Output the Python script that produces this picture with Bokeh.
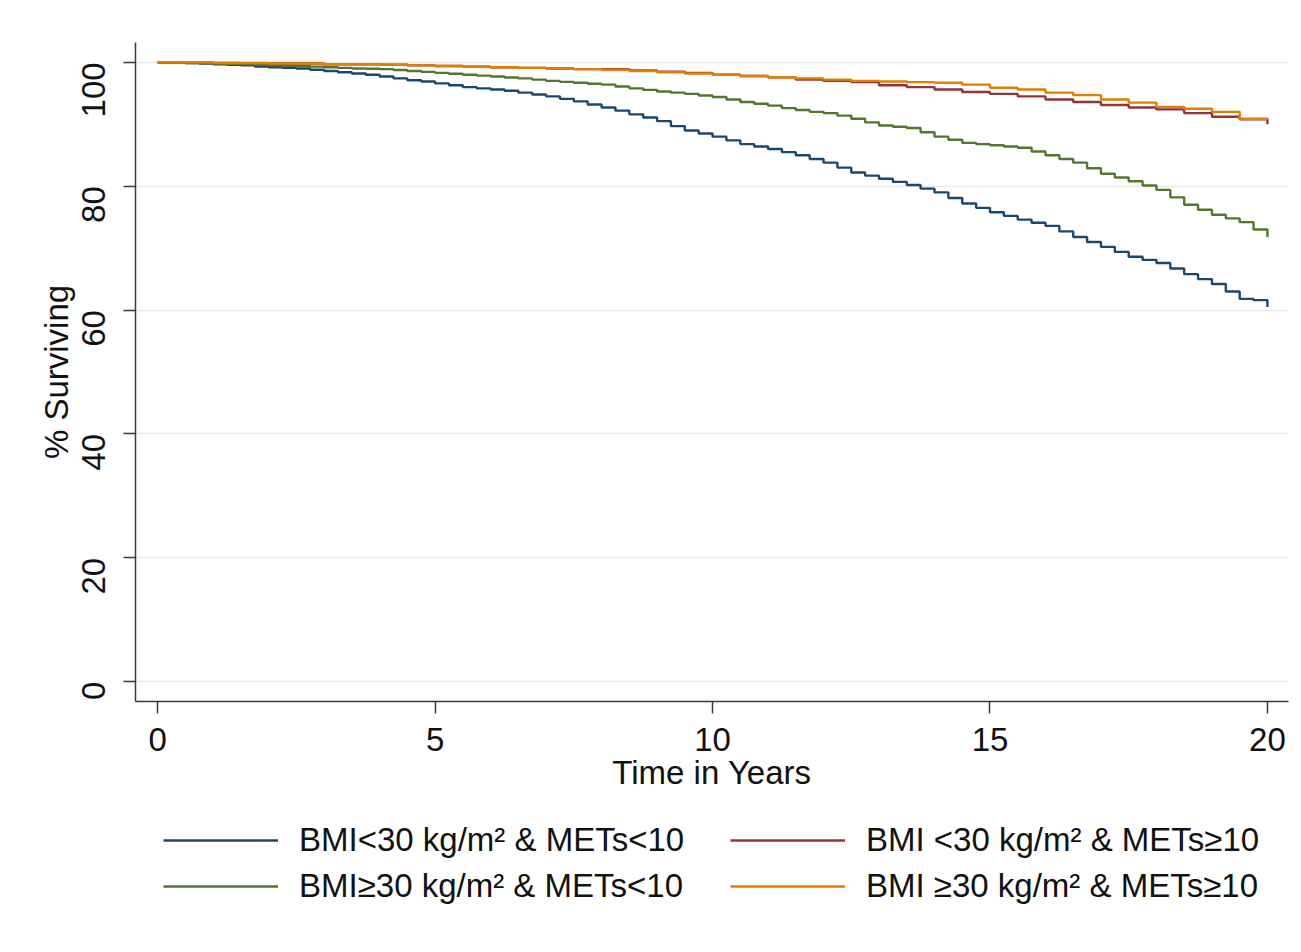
import math
from bokeh.plotting import figure
from bokeh.layouts import column
from bokeh.models import Legend, LegendItem, Range1d, FixedTicker
from bokeh.embed import file_html
from bokeh.resources import INLINE

# ---- data ----
years_q = [0, 0.25, 0.5, 0.75, 1, 1.25, 1.5, 1.75, 2, 2.25, 2.5, 2.75, 3, 3.25, 3.5, 3.75,
           4, 4.25, 4.5, 4.75, 5, 5.25, 5.5, 5.75, 6, 6.25, 6.5, 6.75, 7, 7.25, 7.5, 7.75,
           8, 8.25, 8.5, 8.75, 9, 9.25, 9.5, 9.75, 10, 10.25, 10.5, 10.75, 11, 11.25, 11.5,
           11.75, 12, 12.25, 12.5, 12.75, 13, 13.25, 13.5, 13.75, 14, 14.25, 14.5, 14.75,
           15, 15.25, 15.5, 15.75, 16, 16.25, 16.5, 16.75, 17, 17.25, 17.5, 17.75, 18,
           18.25, 18.5, 18.75, 19, 19.25, 19.5, 19.75, 20]

years_h = [0, 0.5, 1, 1.5, 2, 2.5, 3, 3.5, 4, 4.5, 5, 5.5, 6, 6.5, 7, 7.5, 8, 8.5, 9, 9.5,
           10, 10.5, 11, 11.5, 12, 12.5, 13, 13.5, 14, 14.5, 15, 15.5, 16, 16.5, 17, 17.5,
           18, 18.5, 19, 19.5, 20]

bmi_lt30_mets_lt10 = [100, 100, 99.9, 99.8, 99.7, 99.6, 99.5, 99.3, 99.2, 99.1, 99.0, 98.8,
                      98.6, 98.4, 98.2, 98.0, 97.7, 97.4, 97.1, 96.9, 96.6, 96.3, 96.0, 95.8,
                      95.6, 95.4, 95.1, 94.8, 94.5, 94.1, 93.7, 93.2, 92.7, 92.2, 91.6, 91.1,
                      90.5, 89.7, 89.0, 88.5, 88.0, 87.4, 86.8, 86.4, 86.0, 85.5, 85.0, 84.4,
                      83.8, 83.0, 82.2, 81.7, 81.2, 80.7, 80.2, 79.6, 79.0, 78.1, 77.2, 76.5,
                      75.8, 75.2, 74.6, 74.1, 73.6, 72.7, 71.8, 71.0, 70.2, 69.4, 68.6, 68.1,
                      67.6, 66.7, 65.8, 65.0, 64.2, 63.0, 61.8, 61.6, 60.5]

bmi_ge30_mets_lt10 = [100, 100, 99.9, 99.85, 99.8, 99.75, 99.7, 99.6, 99.5, 99.45, 99.4, 99.3,
                      99.2, 99.1, 99.0, 98.95, 98.9, 98.75, 98.6, 98.45, 98.3, 98.15, 98.0,
                      97.85, 97.7, 97.55, 97.4, 97.2, 97.0, 96.85, 96.7, 96.55, 96.4, 96.1,
                      95.8, 95.55, 95.3, 95.1, 94.9, 94.65, 94.4, 94.0, 93.6, 93.3, 93.0, 92.6,
                      92.3, 92.0, 91.8, 91.4, 90.9, 90.3, 89.8, 89.6, 89.4, 88.7, 88.0, 87.5,
                      87.0, 86.8, 86.6, 86.4, 86.2, 85.6, 85.0, 84.4, 83.8, 82.9, 82.0, 81.4,
                      80.8, 80.1, 79.4, 78.2, 77.0, 76.2, 75.4, 74.8, 74.2, 73.0, 71.8]

bmi_lt30_mets_ge10 = [100, 99.95, 99.9, 99.85, 99.8, 99.8, 99.7, 99.7, 99.6, 99.5, 99.4, 99.3,
                      99.2, 99.1, 99.0, 98.9, 98.9, 98.7, 98.5, 98.3, 98.0, 97.8, 97.6, 97.2,
                      97.0, 96.8, 96.3, 96.0, 95.6, 95.2, 94.9, 94.5, 94.0, 93.6, 93.1, 92.7,
                      92.4, 91.8, 91.2, 90.8, 90.0]

bmi_ge30_mets_ge10 = [100, 100, 99.9, 99.9, 99.8, 99.8, 99.7, 99.7, 99.6, 99.5, 99.4, 99.3,
                      99.2, 99.1, 99.0, 98.9, 98.8, 98.6, 98.4, 98.2, 98.0, 97.8, 97.6, 97.4,
                      97.2, 97.0, 96.9, 96.8, 96.7, 96.4, 95.9, 95.6, 95.1, 94.7, 94.0, 93.5,
                      92.8, 92.5, 92.0, 90.9, 90.8]

labels = ["BMI<30 kg/m\u00b2 & METs<10",
          "BMI <30 kg/m\u00b2 & METs\u226510",
          "BMI\u226530 kg/m\u00b2 & METs<10",
          "BMI \u226530 kg/m\u00b2 & METs\u226510"]
series_x = [years_q, years_h, years_q, years_h]
series_y = [bmi_lt30_mets_lt10, bmi_lt30_mets_ge10, bmi_ge30_mets_lt10, bmi_ge30_mets_ge10]
colors = ["#1a476f", "#90353b", "#55752f", "#e37e00"]

x_ticks = [0, 5, 10, 15, 20]
y_ticks = [0, 20, 40, 60, 80, 100]

FONT = "Liberation Sans"
FS = "33px"
LW = 2.4

p = figure(width=1293, height=810, output_backend="svg", toolbar_location=None,
           x_range=Range1d(-0.40, 20.38), y_range=Range1d(-3.2, 103.2))
p.min_border_left = 135
p.min_border_top = 42
p.min_border_right = 5
p.min_border_bottom = 109
p.outline_line_color = None
p.background_fill_color = "white"
p.border_fill_color = "white"

p.xgrid.visible = False
p.ygrid.grid_line_color = "#e8e8e8"
p.ygrid.grid_line_width = 1.5

p.xaxis.ticker = FixedTicker(ticks=x_ticks)
p.yaxis.ticker = FixedTicker(ticks=y_ticks)
for ax in (p.xaxis, p.yaxis):
    ax.axis_line_color = "#3a3a3a"
    ax.axis_line_width = 1.5
    ax.major_tick_line_color = "#3a3a3a"
    ax.major_tick_line_width = 1.5
    ax.major_tick_out = 12
    ax.major_tick_in = 0
    ax.minor_tick_out = 0
    ax.minor_tick_in = 0
    ax.major_label_text_font = FONT
    ax.major_label_text_font_size = FS
    ax.major_label_text_color = "#111111"
    ax.axis_label_text_font = FONT
    ax.axis_label_text_font_size = FS
    ax.axis_label_text_font_style = "normal"
    ax.axis_label_text_color = "#111111"

p.xaxis.axis_label = "Time in Years"
p.yaxis.axis_label = "% Surviving"
p.xaxis.major_label_standoff = 14
p.xaxis.axis_label_standoff = 0
p.yaxis.major_label_orientation = math.pi / 2
p.yaxis.major_label_standoff = 30
p.yaxis.axis_label_standoff = -7

for xs, ys, col in zip(series_x, series_y, colors):
    p.step(xs, ys, mode="after", line_color=col, line_width=LW)

# ---- legend panel below the plot (frame aligned with the main plot) ----
lg = figure(width=1293, height=134, output_backend="svg", toolbar_location=None,
            x_range=Range1d(0, 1), y_range=Range1d(0, 1))
lg.axis.visible = False
lg.grid.visible = False
lg.outline_line_color = None
lg.min_border_left = 0
lg.min_border_right = 0
lg.min_border_top = 0
lg.min_border_bottom = 0
lg.border_fill_color = "white"
lg.background_fill_color = "white"

items = []
for lab, xs, ys, col in zip(labels, series_x, series_y, colors):
    # proxy renderer (same series, falls outside this panel's ranges)
    r = lg.line(x=xs, y=ys, line_color=col, line_width=LW)
    items.append(LegendItem(label=lab, renderers=[r]))

legend = Legend(items=items, location=(28, 39), orientation="horizontal", ncols=2)
legend.border_line_color = None
legend.background_fill_alpha = 0
legend.padding = 0
legend.margin = 0
legend.spacing = 8
legend.glyph_width = 115
legend.glyph_height = 38
legend.label_standoff = 21
legend.label_width = 423
legend.label_text_font = FONT
legend.label_text_font_size = FS
legend.label_text_color = "#111111"
lg.add_layout(legend, "center")

layout = column(p, lg, spacing=0)
open("out.html", "w").write(file_html(layout, INLINE))
